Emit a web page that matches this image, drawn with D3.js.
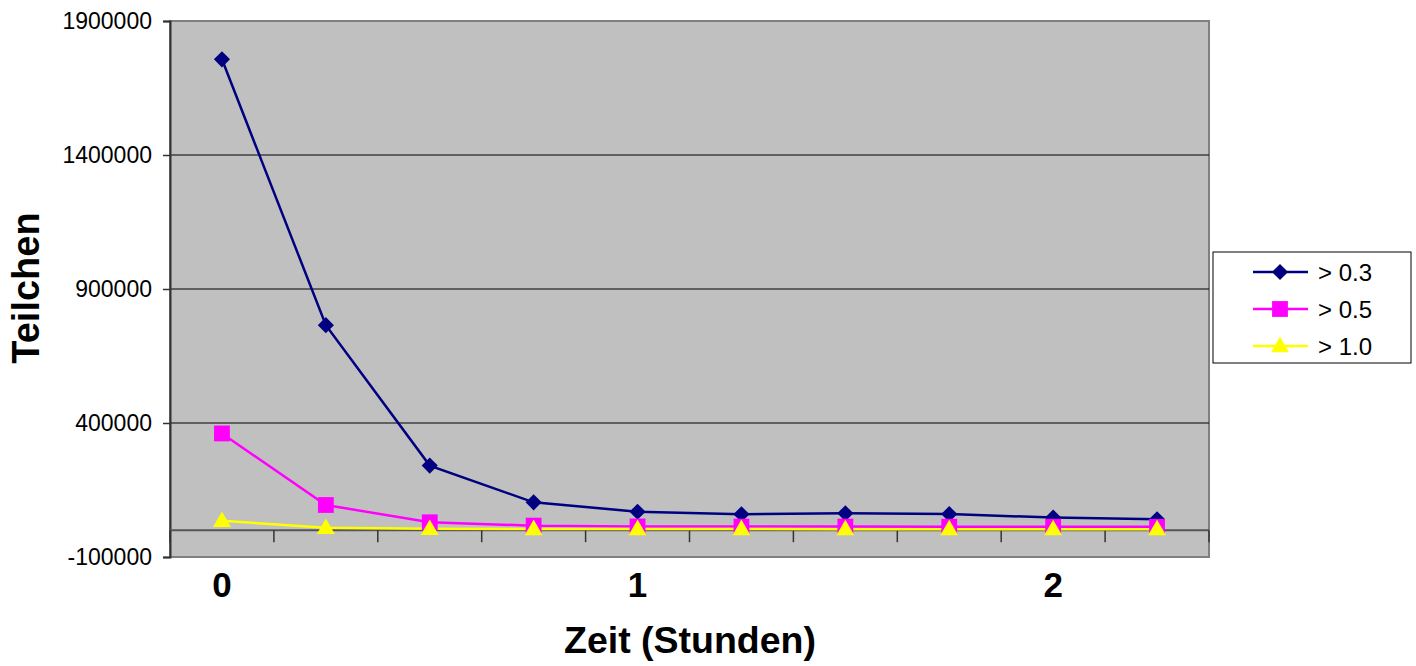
<!DOCTYPE html>
<html><head><meta charset="utf-8">
<script src="https://cdn.jsdelivr.net/npm/d3@7"></script>
<style>body{margin:0;background:#fff}svg{display:block}</style>
</head><body>
<svg id="c" width="1416" height="666"></svg>
<script>
const categories = [0, 0.25, 0.5, 0.75, 1, 1.25, 1.5, 1.75, 2, 2.25];
const categoryLabels = ["0", "", "", "", "1", "", "", "", "2", ""];
const seriesNames = ["> 0.3", "> 0.5", "> 1.0"];
const s03 = [1757000, 765000, 241000, 104000, 69000, 59500, 63000, 60000, 47000, 41000];
const s05 = [361000, 94000, 29500, 17000, 14000, 13500, 13500, 13000, 13000, 12500];
const s10 = [35000, 9000, 5000, 4500, 4500, 4500, 4000, 4000, 4000, 4000];
const yTicks = [-100000, 400000, 900000, 1400000, 1900000];
const colors = ["#000080", "#FF00FF", "#FFFF00"];
const shapes = ["diamond", "square", "triangle"];

const svg = d3.select("#c");
const L = 170, R = 1209, T = 21, B = 557;
const x = d3.scaleBand().domain(categories).range([L, R]).padding(0);
const y = d3.scaleLinear().domain([-100000, 1900000]).range([B, T]);
const font = "'Liberation Sans', Arial, sans-serif";

// plot area
svg.append("rect").attr("x", L).attr("y", T).attr("width", R - L).attr("height", B - T)
  .attr("fill", "#C0C0C0").attr("stroke", "#808080").attr("stroke-width", 2);

// gridlines
svg.append("g").selectAll("line").data(yTicks.filter(d => d > -100000 && d < 1900000)).join("line")
  .attr("x1", L).attr("x2", R).attr("y1", d => y(d)).attr("y2", d => y(d))
  .attr("stroke", "#000").attr("stroke-width", 1);

// y axis
const yAxis = d3.axisLeft(y).tickValues(yTicks).tickSize(7).tickPadding(11)
  .tickFormat(d => String(d));
const yg = svg.append("g").attr("transform", `translate(${L},0)`).call(yAxis);
yg.select(".domain").attr("stroke", "#333").attr("stroke-width", 2);
yg.selectAll(".tick line").attr("stroke", "#333").attr("stroke-width", 1.5);
yg.selectAll(".tick text").attr("font-family", font).attr("font-size", 23).attr("fill", "#000");

// category axis at y=0
const y0 = y(0);
svg.append("line").attr("x1", L).attr("x2", R).attr("y1", y0).attr("y2", y0)
  .attr("stroke", "#555").attr("stroke-width", 2);
const bw = x.bandwidth();
svg.append("g").selectAll("line").data(d3.range(categories.length + 1)).join("line")
  .attr("x1", i => L + i * bw).attr("x2", i => L + i * bw)
  .attr("y1", y0).attr("y2", y0 + 12).attr("stroke", "#333").attr("stroke-width", 1.5);
svg.append("g").selectAll("text").data(categories).join("text")
  .attr("x", d => x(d) + bw / 2).attr("y", 597).attr("text-anchor", "middle")
  .attr("font-family", font).attr("font-weight", "bold").attr("font-size", 35)
  .text((d, i) => categoryLabels[i]);

// axis titles
svg.append("text").attr("x", 690).attr("y", 653).attr("text-anchor", "middle")
  .attr("font-family", font).attr("font-weight", "bold").attr("font-size", 37.5).text("Zeit (Stunden)");
svg.append("text").attr("transform", "translate(39,288) rotate(-90)").attr("text-anchor", "middle")
  .attr("font-family", font).attr("font-weight", "bold").attr("font-size", 38).text("Teilchen");

// markers
const sym = {
  diamond: d3.symbol().type(d3.symbolSquare).size(130),
  square: d3.symbol().type(d3.symbolSquare).size(250),
  triangle: d3.symbol().type(d3.symbolTriangle).size(140)
};
function marker(sel, shape, color) {
  sel.append("path").attr("d", sym[shape]()).attr("fill", color)
    .attr("transform", shape === "diamond" ? "rotate(45)" : (shape === "triangle" ? "translate(0,1)" : null));
}

const allSeries = [s03, s05, s10];
allSeries.forEach((vals, si) => {
  const line = d3.line().x((d, i) => x(categories[i]) + bw / 2).y(d => y(d));
  svg.append("path").datum(vals).attr("d", line).attr("fill", "none")
    .attr("stroke", colors[si]).attr("stroke-width", 2.5);
});
allSeries.forEach((vals, si) => {
  svg.append("g").selectAll("g").data(vals).join("g")
    .attr("transform", (d, i) => `translate(${x(categories[i]) + bw / 2},${y(d)})`)
    .each(function () { marker(d3.select(this), shapes[si], colors[si]); });
});

// legend
svg.append("rect").attr("x", 1213).attr("y", 252).attr("width", 198).attr("height", 111)
  .attr("fill", "#fff").attr("stroke", "#000").attr("stroke-width", 1);
const rowsY = [272, 309, 346];
seriesNames.forEach((n, si) => {
  const g = svg.append("g").attr("transform", `translate(0,${rowsY[si]})`);
  g.append("line").attr("x1", 1253).attr("x2", 1308).attr("y1", 0).attr("y2", 0)
    .attr("stroke", colors[si]).attr("stroke-width", 2.5);
  const m = g.append("g").attr("transform", "translate(1280,0)");
  marker(m, shapes[si], colors[si]);
  g.append("text").attr("x", 1318).attr("y", 9).attr("font-family", font)
    .attr("font-size", 24).text(n);
});
</script>
</body></html>
